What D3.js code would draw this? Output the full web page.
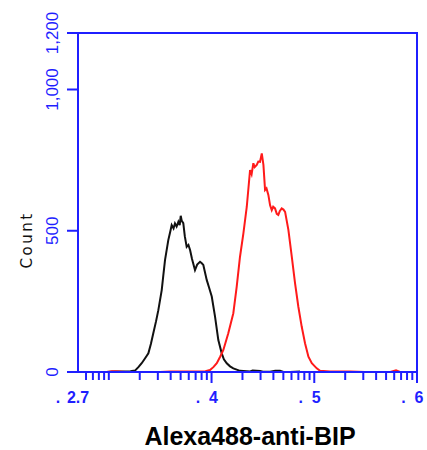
<!DOCTYPE html>
<html>
<head>
<meta charset="utf-8">
<script src="https://cdn.jsdelivr.net/npm/d3@7"></script>
<style>
  body { margin: 0; background: #fff; }
  svg { display: block; }
</style>
</head>
<body>
<div id="chart"></div>
<script>
// data: x in log10 fluorescence units, y = count
const blackX = [2.98, 3.06, 3.16, 3.21, 3.255, 3.29, 3.32, 3.35, 3.385, 3.41, 3.433, 3.46, 3.482, 3.515, 3.53, 3.547, 3.579, 3.6, 3.612, 3.63, 3.644, 3.66, 3.677, 3.69, 3.70, 3.71, 3.725, 3.74, 3.758, 3.775, 3.791, 3.81, 3.839, 3.86, 3.888, 3.905, 3.92, 3.953, 3.975, 4.002, 4.034, 4.066, 4.099, 4.12, 4.148, 4.18, 4.212, 4.277, 4.375, 4.40, 4.472, 4.50, 4.57, 4.62, 4.667, 4.70, 4.764, 4.862];
const blackY = [0, 2, 2, 3, 5, 18, 31, 47, 66, 100, 137, 180, 219, 290, 340, 396, 467, 500, 520, 508, 526, 515, 532, 520, 553, 535, 527, 480, 443, 450, 432, 400, 361, 380, 390, 385, 379, 326, 300, 267, 196, 113, 66, 45, 31, 20, 13, 4, 2, 5, 4, 1, 1, 4, 4, 0, 0, 2];
const redX = [2.98, 3.03, 3.09, 3.16, 3.50, 3.60, 3.79, 3.94, 3.985, 4.02, 4.051, 4.085, 4.115, 4.163, 4.212, 4.245, 4.277, 4.31, 4.343, 4.375, 4.39, 4.407, 4.42, 4.44, 4.455, 4.472, 4.489, 4.505, 4.521, 4.535, 4.553, 4.57, 4.586, 4.60, 4.618, 4.635, 4.65, 4.665, 4.683, 4.70, 4.716, 4.748, 4.781, 4.813, 4.845, 4.878, 4.91, 4.943, 4.976, 5.024, 5.056, 5.154, 5.348, 5.494, 5.74, 5.796, 5.835, 6.0];
const redY = [0, 3, 2, 0, 0, 2, 2, 3, 7, 18, 31, 55, 78, 137, 208, 302, 408, 491, 585, 715, 700, 739, 725, 733, 745, 744, 774, 733, 644, 650, 627, 590, 573, 585, 579, 560, 556, 570, 579, 575, 567, 503, 408, 314, 231, 160, 102, 54, 31, 13, 4, 2, 2, 0, 0, 6, 0, 0];

// axis ticks
const yTicks = [0, 500, 1000, 1200];
const xMajor = [4, 5, 6];
const xLabels = ["2.7", "4", "5", "6"];
const xLabelPos = [2.7, 4, 5, 6];

// 圖表尺寸
const W = 427, H = 450;
const margin = { top: 33, right: 10, bottom: 78, left: 78 };
const width = 417 - margin.left;
const height = 372 - margin.top;
const blue = "#1f1fff";

const svg = d3.select("#chart").append("svg")
  .attr("width", W).attr("height", H);

const g = svg.append("g").attr("transform", `translate(${margin.left},${margin.top})`);

const x = d3.scaleLinear().domain([2.7, 6]).range([0, width]);
const y = d3.scaleLinear().domain([0, 1200]).range([height, 0]);

// minor log ticks
const xMinor = [];
for (let d = 2; d <= 5; d++) {
  for (let k = 1; k <= 9; k++) {
    const v = d + Math.log10(k);
    if (v >= 2.7 && v <= 6.001) xMinor.push(v);
  }
}
xMinor.push(6);

// histograms
const line = d3.line().x(d => x(d[0])).y(d => y(d[1]));

g.append("path")
  .datum(blackX.map((v, i) => [v, blackY[i]]))
  .attr("fill", "none").attr("stroke", "#111").attr("stroke-width", 2)
  .attr("d", line);

g.append("path")
  .datum(redX.map((v, i) => [v, redY[i]]))
  .attr("fill", "none").attr("stroke", "#ff1a1a").attr("stroke-width", 2)
  .attr("d", line);

// frame
g.append("rect")
  .attr("x", 0).attr("y", 0).attr("width", width).attr("height", height)
  .attr("fill", "none").attr("stroke", blue).attr("stroke-width", 2);

// x ticks
g.append("g").selectAll("line").data(xMinor).join("line")
  .attr("x1", d => x(d)).attr("x2", d => x(d))
  .attr("y1", height).attr("y2", d => height + (xMajor.includes(Math.round(d * 1000) / 1000) ? 11 : 8))
  .attr("stroke", blue).attr("stroke-width", 2);

// x labels: "." followed by exponent
const xl = g.append("g").attr("font-family", "Liberation Sans, Arial, sans-serif")
  .attr("font-size", 16).attr("font-weight", "bold").attr("fill", blue);
xLabelPos.forEach((p, i) => {
  const t = xl.append("text")
    .attr("x", x(p) + (i === 0 ? 0 : 2)).attr("y", height + 31)
    .attr("text-anchor", "middle").text(xLabels[i]);
  const w = t.node().getComputedTextLength();
  xl.append("text")
    .attr("x", x(p) - w / 2 - 9).attr("y", height + 31)
    .attr("text-anchor", "middle").text(".");
});

// y ticks
g.append("g").selectAll("line").data(yTicks).join("line")
  .attr("x1", -11).attr("x2", 0)
  .attr("y1", d => y(d)).attr("y2", d => y(d))
  .attr("stroke", blue).attr("stroke-width", 2);

g.append("g").selectAll("text").data(yTicks).join("text")
  .attr("transform", d => `translate(${-20},${y(d)}) rotate(-90)`)
  .attr("text-anchor", "middle")
  .attr("font-family", "Liberation Sans, Arial, sans-serif")
  .attr("font-size", 17).attr("fill", blue)
  .text(d => d3.format(",")(d));

// y axis label
svg.append("text")
  .attr("transform", `translate(32,240) rotate(-90)`)
  .attr("text-anchor", "middle")
  .attr("font-family", "DejaVu Sans, sans-serif")
  .attr("font-size", 15).attr("letter-spacing", 2.5).attr("fill", "#111")
  .text("Count");

// x axis title
svg.append("text")
  .attr("x", 250).attr("y", 445)
  .attr("text-anchor", "middle")
  .attr("font-family", "Liberation Sans, Arial, sans-serif")
  .attr("font-size", 25).attr("font-weight", "bold").attr("fill", "#000")
  .text("Alexa488-anti-BIP");
</script>
</body>
</html>
